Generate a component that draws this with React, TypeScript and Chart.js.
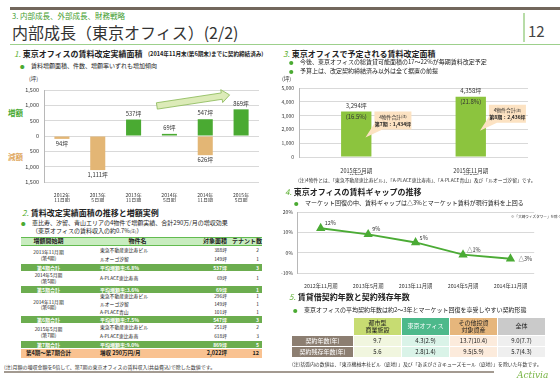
import React, { useEffect, useRef } from "react";
import { Chart, registerables } from "chart.js";
Chart.register(...registerables);

const FONT = '"Noto Sans CJK JP", "Noto Sans", sans-serif';
const GREEN = "#4aaa32";
const TAN = "#e3b675";
const GRID = "#d9d9d9";
const AXIS = "#b8b8b8";

// ---------- Chart 1: 賃料改定実績面積 ----------
const revisionPeriods = [
  ["2012年", "11月期", "(第2期)"],
  ["2013年", "5月期", "(第3期)"],
  ["2013年", "11月期", "(第4期)"],
  ["2014年", "5月期", "(第5期)"],
  ["2014年", "11月期", "(第6期)"],
  ["2015年", "5月期", "(第7期)"],
];
const increaseArea = [0, 0, 537, 69, 547, 869];
const decreaseArea = [-94, -1111, 0, 0, -626, 0];

// ---------- Chart 2: 予定される賃料改定面積 ----------
const plannedPeriods = [
  ["2015年5月期", "(第7期)"],
  ["2015年11月期", "(第8期)"],
];
const plannedArea = [3294, 4358];
const plannedShare = [16.5, 21.8];
const fourPropertyArea = [1434, 2436];
const fourPropertyPeriod = ["第7期", "第8期"];

// ---------- Chart 3: 賃料ギャップの推移 ----------
const gapPeriods = [
  ["2012年11月期", "(第2期)"],
  ["2013年5月期", "(第3期)"],
  ["2013年11月期", "(第4期)"],
  ["2014年5月期", "(第5期)"],
  ["2014年11月期", "(第6期)※"],
];
const rentGap = [12, 9, 5, -1, -3];

// ---------- Table 2 ----------
const revisionBlocks = [
  { period: ["2013年11月期", "(第4期)"], rows: [["東急不動産恵比寿ビル", "388坪", "2"], ["ルオーゴ汐留", "149坪", "1"]], total: ["第4期合計", "平均増額率:6.8%", "537坪", "3"] },
  { period: ["2014年5月期", "(第5期)"], rows: [["A-PLACE恵比寿南", "69坪", "1"]], total: ["第5期合計", "平均増額率:3.6%", "69坪", "1"] },
  { period: ["2014年11月期", "(第6期)"], rows: [["東急不動産恵比寿ビル", "296坪", "1"], ["ルオーゴ汐留", "149坪", "1"], ["A-PLACE青山", "101坪", "1"]], total: ["第6期合計", "平均増額率:7.5%", "547坪", "3"] },
  { period: ["2015年5月期", "(第7期)"], rows: [["東急不動産恵比寿ビル", "251坪", "2"], ["A-PLACE恵比寿南", "618坪", "3"]], total: ["第7期合計", "平均増額率:9.0%", "869坪", "5"] },
];
const revisionGrandTotal = ["第4期〜第7期合計", "増収  290万円/月", "2,022坪", "12"];

// ---------- Table 5 ----------
const leaseHeaders = [["都市型", "商業施設"], ["東京オフィス"], ["その他投資", "対象資産"], ["全体"]];
const leaseRowLabels = ["契約年数(年)", "契約残存年数(年)"];
const leaseTerm = ["9.7", "4.3(2.9)", "13.7(10.4)", "9.0(7.7)"];
const leaseRemaining = ["5.6", "2.8(1.4)", "9.5(5.9)", "5.7(4.3)"];

const fmt = (v: number) => Math.abs(v).toLocaleString("en-US");

const areaLabelPlugin = {
  id: "areaLabels",
  afterDatasetsDraw(chart: any) {
    const ctx = chart.ctx;
    ctx.save();
    ctx.font = `5.8px ${FONT}`;
    ctx.fillStyle = "#333";
    ctx.textAlign = "center";
    ctx.textBaseline = "middle";
    chart.data.datasets.forEach((ds: any, di: number) => {
      chart.getDatasetMeta(di).data.forEach((bar: any, i: number) => {
        const v = ds.data[i];
        if (!v) return;
        ctx.fillText(`${fmt(v)}坪`, bar.x, v > 0 ? bar.y - 6 : bar.y + 5);
      });
    });
    ctx.restore();
  },
};

const trendArrowPlugin = {
  id: "trendArrow",
  afterDatasetsDraw(chart: any) {
    const { ctx } = chart;
    const xs = chart.scales.x, ys = chart.scales.y;
    const x0 = xs.getPixelForValue(2.65), y0 = ys.getPixelForValue(980);
    const x1 = xs.getPixelForValue(4.68), y1 = ys.getPixelForValue(1340);
    const ang = Math.atan2(y1 - y0, x1 - x0);
    const len = Math.hypot(x1 - x0, y1 - y0);
    const sh = 3.2, hh = 6.5, hl = 8;
    ctx.save();
    ctx.translate(x0, y0);
    ctx.rotate(ang);
    ctx.beginPath();
    ctx.moveTo(0, -sh);
    ctx.lineTo(len - hl, -sh);
    ctx.lineTo(len - hl, -hh);
    ctx.lineTo(len, 0);
    ctx.lineTo(len - hl, hh);
    ctx.lineTo(len - hl, sh);
    ctx.lineTo(0, sh);
    ctx.closePath();
    ctx.fillStyle = "#dcebb8";
    ctx.fill();
    ctx.strokeStyle = "#8dbb5a";
    ctx.lineWidth = 0.8;
    ctx.stroke();
    ctx.restore();
  },
};

const plannedLabelPlugin = {
  id: "plannedLabels",
  afterDatasetsDraw(chart: any) {
    const ctx = chart.ctx;
    chart.getDatasetMeta(0).data.forEach((bar: any, i: number) => {
      ctx.save();
      ctx.fillStyle = "#333";
      ctx.textAlign = "center";
      ctx.textBaseline = "middle";
      ctx.font = `6px ${FONT}`;
      ctx.fillText(`${fmt(plannedArea[i])}坪`, bar.x, bar.y - 6);
      ctx.fillText(`(${plannedShare[i].toFixed(1)}%)`, bar.x, bar.y + 5);
      // callout bubble
      const half = bar.width / 2;
      const left = bar.x + half + 3;
      const top = bar.y + (i === 0 ? 0 : 8);
      const w = 37, h = 18;
      ctx.fillStyle = "#fce2c2";
      ctx.beginPath();
      ctx.moveTo(left, top);
      ctx.lineTo(left + w, top);
      ctx.lineTo(left + w, top + h);
      ctx.lineTo(left + 8, top + h);
      ctx.lineTo(bar.x + half - 6, top + h + 8);
      ctx.lineTo(left, top + h - 6);
      ctx.closePath();
      ctx.fill();
      const cx = left + w / 2;
      ctx.fillStyle = "#222";
      ctx.font = `4.8px ${FONT}`;
      const a = "4物件合計";
      const aw = ctx.measureText(a).width;
      ctx.font = `3.4px ${FONT}`;
      const bw = ctx.measureText("(注)").width;
      const sx = cx - (aw + bw) / 2;
      ctx.textAlign = "left";
      ctx.font = `4.8px ${FONT}`;
      ctx.fillText(a, sx, top + 5.5);
      ctx.font = `3.4px ${FONT}`;
      ctx.fillText("(注)", sx + aw, top + 5.5);
      ctx.textAlign = "center";
      ctx.font = `bold 5px ${FONT}`;
      ctx.fillText(`${fourPropertyPeriod[i]}：${fmt(fourPropertyArea[i])}坪`, cx, top + 12.5);
      ctx.restore();
    });
  },
};

const gapLabelPlugin = {
  id: "gapLabels",
  afterDatasetsDraw(chart: any) {
    const ctx = chart.ctx;
    ctx.save();
    ctx.font = `5.5px ${FONT}`;
    ctx.fillStyle = "#333";
    ctx.textAlign = "left";
    ctx.textBaseline = "middle";
    chart.getDatasetMeta(0).data.forEach((pt: any, i: number) => {
      const v = rentGap[i];
      const text = v < 0 ? `△${-v}%` : `${v}%`;
      const last = i === rentGap.length - 1;
      ctx.fillText(text, pt.x + (last ? 8 : 4), pt.y + (last ? 0 : -5));
    });
    ctx.restore();
  },
};

function makeRevisionConfig(): any {
  return {
    type: "bar",
    data: {
      labels: revisionPeriods,
      datasets: [
        { label: "増額", data: increaseArea, backgroundColor: GREEN, categoryPercentage: 1, barPercentage: 0.42 },
        { label: "減額", data: decreaseArea, backgroundColor: TAN, categoryPercentage: 1, barPercentage: 0.42 },
      ],
    },
    options: {
      animation: false,
      responsive: false,
      layout: { padding: { top: 10, right: 3, left: 0, bottom: 0 } },
      plugins: { legend: { display: false }, tooltip: { enabled: false } },
      scales: {
        x: {
          stacked: true,
          grid: { display: false },
          border: { display: false },
          ticks: { font: { family: FONT, size: 5, lineHeight: 1.05 }, color: "#333", maxRotation: 0, autoSkip: false, padding: 2 },
          afterFit: (s: any) => { s.height = 20; },
        },
        y: {
          stacked: true,
          min: -1500,
          max: 1500,
          ticks: { stepSize: 500, callback: (v: any) => fmt(Number(v)), font: { family: FONT, size: 5.5 }, color: "#333", padding: 5 },
          grid: { color: GRID, drawTicks: false },
          border: { display: true, color: AXIS },
          afterFit: (s: any) => { s.width = 44; },
        },
      },
    },
    plugins: [trendArrowPlugin, areaLabelPlugin],
  };
}

function makePlannedConfig(): any {
  return {
    type: "bar",
    data: {
      labels: plannedPeriods,
      datasets: [{ data: plannedArea, backgroundColor: "#8cc43e", categoryPercentage: 1, barPercentage: 0.265 }],
    },
    options: {
      animation: false,
      responsive: false,
      layout: { padding: { top: 8, right: 4, left: 0, bottom: 0 } },
      plugins: { legend: { display: false }, tooltip: { enabled: false } },
      scales: {
        x: {
          grid: { display: false },
          border: { display: false },
          ticks: { font: { family: FONT, size: 5.5, lineHeight: 1.25 }, color: "#333", maxRotation: 0, autoSkip: false, padding: 2 },
          afterFit: (s: any) => { s.height = 18; },
        },
        y: {
          min: 0,
          max: 5000,
          ticks: { stepSize: 1000, callback: (v: any) => fmt(Number(v)), font: { family: FONT, size: 5 }, color: "#333", padding: 5 },
          grid: { color: GRID, drawTicks: false },
          border: { display: true, color: AXIS },
          afterFit: (s: any) => { s.width = 49; },
        },
      },
    },
    plugins: [plannedLabelPlugin],
  };
}

function makeGapConfig(): any {
  return {
    type: "line",
    data: {
      labels: gapPeriods,
      datasets: [{
        data: rentGap,
        borderColor: "#4bab35",
        backgroundColor: "#4bab35",
        borderWidth: 1.8,
        pointStyle: "triangle",
        pointRadius: 3.6,
        pointBackgroundColor: "#4bab35",
        pointBorderColor: "#4bab35",
        tension: 0,
      }],
    },
    options: {
      animation: false,
      responsive: false,
      layout: { padding: { top: 6, right: 3, left: 0, bottom: 0 } },
      plugins: { legend: { display: false }, tooltip: { enabled: false } },
      scales: {
        x: {
          offset: true,
          grid: { display: false },
          border: { display: false },
          ticks: { font: { family: FONT, size: 5.3, lineHeight: 1.15 }, color: "#333", maxRotation: 0, autoSkip: false, padding: 2 },
          afterFit: (s: any) => { s.height = 16; },
        },
        y: {
          min: -10,
          max: 20,
          ticks: { stepSize: 10, callback: (v: any) => `${v}%`, font: { family: FONT, size: 5 }, color: "#333", padding: 4 },
          grid: { color: GRID, drawTicks: false },
          border: { display: true, color: AXIS },
          afterFit: (s: any) => { s.width = 47; },
        },
      },
    },
    plugins: [gapLabelPlugin],
  };
}

function ChartBox({ x, y, w, h, make }: any) {
  const ref = useRef<HTMLCanvasElement | null>(null);
  useEffect(() => {
    const c = new Chart(ref.current as HTMLCanvasElement, make());
    return () => c.destroy();
  }, []);
  return (
    <div style={{ position: "absolute", left: x, top: y, width: w, height: h }}>
      <canvas ref={ref} width={w} height={h} style={{ width: w, height: h, display: "block" }} />
    </div>
  );
}

function T({ x, y, s, c = "#222", b = false, children, st = {} }: any) {
  return (
    <div style={{ position: "absolute", left: x, top: y - s / 2, fontSize: s, lineHeight: `${s}px`, color: c, fontWeight: b ? 700 : 400, whiteSpace: "nowrap", fontFamily: FONT, ...st }}>
      {children}
    </div>
  );
}

function Heading({ x, y, n, text }: any) {
  return (
    <T x={x} y={y} s={8} b>
      <span style={{ color: "#5aae2e", fontStyle: "italic", fontWeight: 400, marginRight: 2 }}>{n}.</span>
      {text}
    </T>
  );
}

function Bullet({ x, y, children }: any) {
  return (
    <>
      <T x={x} y={y} s={4.5} c="#4aaa32">●</T>
      <T x={x + 11} y={y} s={6} c="#222">{children}</T>
    </>
  );
}

const COLW = [55, 99, 54, 33];

function Cells({ cells, color, bold, size, header = false }: any) {
  const base = { fontSize: size, color, fontWeight: bold ? 700 : 400, whiteSpace: "nowrap" as const, overflow: "visible" };
  return (
    <>
      <div style={{ ...base, width: COLW[0], textAlign: "center" }}>{cells[0]}</div>
      <div style={{ ...base, width: COLW[1], paddingLeft: 24, boxSizing: "border-box", textAlign: header ? "center" : "left" }}>{cells[1]}</div>
      <div style={{ ...base, width: COLW[2], paddingRight: 2, boxSizing: "border-box", textAlign: "right" }}>{cells[2]}</div>
      <div style={{ ...base, width: COLW[3], paddingRight: header ? 0 : 3, boxSizing: "border-box", textAlign: "right" }}>{cells[3]}</div>
    </>
  );
}

function RevisionTable() {
  const blockH = [18, 15, 23.5, 17.5];
  const rowStyle = (h: number, bg?: string): any => ({ display: "flex", alignItems: "center", height: h, background: bg, lineHeight: 1 });
  return (
    <div style={{ position: "absolute", left: 21, top: 237, width: 241, fontFamily: FONT }}>
      <div style={{ ...rowStyle(8.5, "#c8ecbf"), borderTop: "1px solid #62bb4f", borderBottom: "1px solid #62bb4f", boxSizing: "border-box" }}>
        <Cells cells={["増額開始期", "物件名", "対象面積", "テナント数"]} color="#222" bold size={6} header />
      </div>
      {revisionBlocks.map((blk, bi) => (
        <React.Fragment key={bi}>
          <div style={{ position: "relative", height: blockH[bi], display: "flex", flexDirection: "column" }}>
            <div style={{ position: "absolute", left: 0, top: 0, width: COLW[0], height: "100%", display: "flex", flexDirection: "column", justifyContent: "center", alignItems: "center", fontSize: 4.8, lineHeight: "5.6px", color: "#222" }}>
              <div>{blk.period[0]}</div>
              <div>{blk.period[1]}</div>
            </div>
            {blk.rows.map((r, ri) => (
              <div key={ri} style={{ ...rowStyle(blockH[bi] / blk.rows.length) }}>
                <Cells cells={["", ...r]} color="#222" size={4.8} />
              </div>
            ))}
          </div>
          <div style={rowStyle(7, "#6cad4f")}>
            <Cells cells={blk.total} color="#fff" bold size={5} />
          </div>
        </React.Fragment>
      ))}
      <div style={{ height: 1.5 }} />
      <div style={rowStyle(8.5, "#f9c291")}>
        <Cells cells={revisionGrandTotal} color="#222" bold size={5.5} />
      </div>
    </div>
  );
}

function LeaseTable() {
  const hdrBg = ["#c7dc72", "#4db98b", "#e6b67c", "#cacaca"];
  const hdrFg = ["#222", "#fff", "#222", "#222"];
  const cellBg = ["#f1f6df", "#daf3e8", "#fcebdc", "#efefef"];
  const colX = [354, 402, 450, 498];
  const cw = 47;
  const cell = (x: number, y: number, w: number, h: number, bg: string, fg: string, content: any, size = 6): any => (
    <div style={{ position: "absolute", left: x, top: y, width: w, height: h, background: bg, color: fg, fontSize: size, lineHeight: "6.8px", display: "flex", flexDirection: "column", justifyContent: "center", alignItems: "center", fontFamily: FONT, whiteSpace: "nowrap" }}>
      {content}
    </div>
  );
  const rows = [leaseTerm, leaseRemaining];
  return (
    <>
      {leaseHeaders.map((h, i) => cell(colX[i], 318, cw, 17, hdrBg[i], hdrFg[i], h.map((l, k) => <div key={k}>{l}</div>)))}
      {leaseRowLabels.map((l, r) => cell(292, 336 + r * 11, 61, 10, "#8c7e71", "#fff", l))}
      {rows.map((row, r) => row.map((v, i) => cell(colX[i], 336 + r * 11, cw, 10, cellBg[i], "#222", v)))}
    </>
  );
}

export default function App() {
  return (
    <div style={{ position: "absolute", left: 0, top: 0, width: 560, height: 388, background: "#fff", overflow: "hidden", fontFamily: FONT }}>
      {/* header */}
      <div style={{ position: "absolute", left: 10, top: 7, width: 550, height: 3, background: "#72675c" }} />
      <T x={12} y={16} s={7.5} c="#3f9c2d">3. 内部成長、外部成長、財務戦略</T>
      <T x={12} y={32} s={16} c="#333">内部成長（東京オフィス）(2/2)</T>
      <div style={{ position: "absolute", left: 10, top: 43.5, width: 550, height: 1.5, background: "#9dd08c" }} />
      <div style={{ position: "absolute", left: 523, top: 13, width: 2, height: 29, background: "#b8dca8" }} />
      <T x={528} y={30} s={15} c="#444">12</T>

      {/* section 1 */}
      <Heading x={14} y={54} n="1" text="東京オフィスの賃料改定実績面積" />
      <T x={148} y={55} s={5.6} b c="#222">(2014年11月末(第6期末)までに契約締結済み)</T>
      <Bullet x={20} y={66}>賃料増額面積、件数、増額率いずれも増加傾向</Bullet>
      <T x={29} y={80} s={5.5} c="#333">(坪)</T>
      <T x={8} y={113} s={7.5} b c="#4aaa32">増額</T>
      <T x={8} y={157} s={7.5} b c="#e0a860">減額</T>
      <ChartBox x={0} y={80} w={262} h={122} make={makeRevisionConfig} />

      {/* section 2 */}
      <Heading x={22} y={213} n="2" text="賃料改定実績面積の推移と増額実例" />
      <Bullet x={21} y={223}>恵比寿、汐留、青山エリアの4物件で増額実績、合計290万/月の増収効果</Bullet>
      <T x={32} y={231} s={6} c="#222">（東京オフィスの賃料収入の約0.7%<span style={{ fontSize: 4 }}>(注)</span>）</T>
      <RevisionTable />
      <T x={4} y={366} s={5} c="#333">(注)月額の増収金額を6倍して、第7期の東京オフィスの賃料収入(共益費込)で除した数値です。</T>

      {/* section 3 */}
      <Heading x={283} y={54} n="3" text="東京オフィスで予定される賃料改定面積" />
      <Bullet x={289} y={62}>今後、東京オフィスの総賃貸可能面積の17〜22%が毎期賃料改定予定</Bullet>
      <Bullet x={289} y={71}>予算上は、改定契約締結済み以外は全て据置の前提</Bullet>
      <T x={282} y={80} s={5.5} c="#333">(坪)</T>
      <ChartBox x={250} y={80} w={282} h={95} make={makePlannedConfig} />
      <T x={298} y={180} s={4.8} c="#333">(注)4物件とは、「東急不動産恵比寿ビル」、「A-PLACE恵比寿南」、「A-PLACE青山」及び「ルオーゴ汐留」です。</T>

      {/* section 4 */}
      <Heading x={285} y={192} n="4" text="東京オフィスの賃料ギャップの推移" />
      <Bullet x={294} y={203}>マーケット回復の中、賃料ギャップは△3%とマーケット賃料が現行賃料を上回る</Bullet>
      <ChartBox x={250} y={205} w={290} h={84} make={makeGapConfig} />
      <T x={511} y={217} s={3.6} c="#333">※「大崎ウィズタワー」を除く</T>

      {/* section 5 */}
      <Heading x={289} y={297} n="5" text="賃貸借契約年数と契約残存年数" />
      <Bullet x={293} y={310}>東京オフィスの平均契約年数は約2〜3年とマーケット回復を享受しやすい契約形態</Bullet>
      <LeaseTable />
      <T x={292} y={364} s={4.9} c="#333">(注)括弧内の数値は、「東京機械本社ビル（底地）」及び「あまがさきキューズモール（底地）」を除いた年数です。</T>

      {/* footer */}
      <div style={{ position: "absolute", left: 4, top: 371, width: 490, height: 2, background: "#a39a91" }} />
      <T x={517} y={375} s={9} c="#79b546" st={{ fontStyle: "italic", fontFamily: '"DejaVu Serif", serif' }}>Activia</T>
    </div>
  );
}
